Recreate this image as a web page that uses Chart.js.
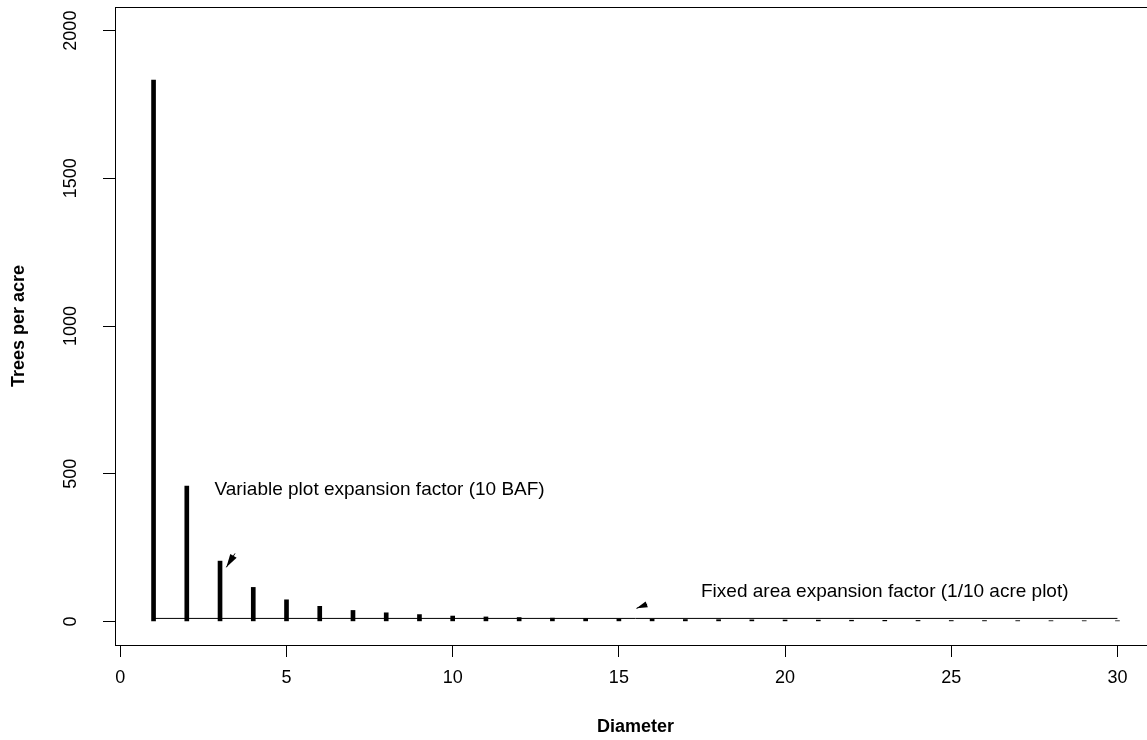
<!DOCTYPE html>
<html>
<head>
<meta charset="utf-8">
<script src="https://cdn.jsdelivr.net/npm/chart.js@4.4.1/dist/chart.umd.min.js"></script>
<style>
html,body{margin:0;padding:0;background:#fff;overflow:hidden;}
canvas{display:block;}
</style>
</head>
<body>
<canvas id="myChart" width="1156" height="740"></canvas>
<script>
// values
var diameter=[1,2,3,4,5,6,7,8,9,10,11,12,13,14,15,16,17,18,19,20,21,22,23,24,25,26,27,28,29,30];
var treesPerAcre=[1833,458,204,115,73,51,37,29,23,18,15,13,11,9.4,8.1,7.2,6.3,5.7,5.1,4.6,4.2,3.8,3.5,3.2,2.9,2.7,2.5,2.3,2.2,2.0];
var fixedX=[1,30];
var fixedY=[10,10];
var xTicks=[0,5,10,15,20,25,30];
var yTicks=[0,500,1000,1500,2000];

// notes on the plot (data coordinates)
var noteText=["Variable plot expansion factor (10 BAF)","Fixed area expansion factor (1/10 acre plot)"];
var noteX=[7.8,23.0];
var noteY=[445,100];
// arrows: tail -> tip
var arrowX0=[3.45,15.85], arrowY0=[230,58];
var arrowX1=[3.19,15.53], arrowY1=[183,44];

var FONT='"Liberation Sans", Arial, Helvetica, sans-serif';

var $each=function(a,f){for(var i=0;i<a.length;i++)f(i,a[i]);};
var bars=[];
$each(diameter,function(i,d){bars.push({x:d,y:treesPerAcre[i]});});
var fixedLine=[];
$each(fixedX,function(i,x){fixedLine.push({x:x,y:fixedY[i]});});

var extras={
  id:"extras",
  afterDraw:function(chart){
    var ctx=chart.ctx, a=chart.chartArea;
    var xs=chart.scales.x, ys=chart.scales.y;
    ctx.save();
    // box
    ctx.strokeStyle="#000";
    ctx.lineWidth=1;
    ctx.strokeRect(a.left+0.5,a.top+0.5,a.right-a.left,a.bottom-a.top);
    // rotated y tick labels
    ctx.fillStyle="#000";
    ctx.font="18px "+FONT;
    ctx.textAlign="center";
    ctx.textBaseline="middle";
    $each(yTicks,function(i,v){
      ctx.save();
      ctx.translate(71,ys.getPixelForValue(v));
      ctx.rotate(-Math.PI/2);
      ctx.fillText(String(v),0,0);
      ctx.restore();
    });
    // notes
    ctx.font="19px "+FONT;
    $each(noteText,function(i,t){
      ctx.fillText(t,xs.getPixelForValue(noteX[i]),ys.getPixelForValue(noteY[i]));
    });
    // arrows
    $each(arrowX0,function(i){
      var x0=xs.getPixelForValue(arrowX0[i]), y0=ys.getPixelForValue(arrowY0[i]);
      var x1=xs.getPixelForValue(arrowX1[i]), y1=ys.getPixelForValue(arrowY1[i]);
      var ang=Math.atan2(y1-y0,x1-x0);
      var len=Math.min(14,Math.hypot(x1-x0,y1-y0));
      ctx.beginPath();
      ctx.moveTo(x0,y0);ctx.lineTo(x1,y1);ctx.stroke();
      ctx.beginPath();
      ctx.moveTo(x1,y1);
      ctx.lineTo(x1-len*Math.cos(ang-0.27),y1-len*Math.sin(ang-0.27));
      ctx.lineTo(x1-len*Math.cos(ang+0.27),y1-len*Math.sin(ang+0.27));
      ctx.closePath();
      ctx.fill();
    });
    ctx.restore();
  }
};

var myChart=document.getElementById("myChart").getContext("2d");
var chart=new Chart(myChart,{
  type:"bar",
  data:{
    datasets:[
      {
        type:"line",
        data:fixedLine,
        borderColor:"#000",
        borderWidth:1,
        pointRadius:0,
        order:0
      },
      {
        data:bars,
        backgroundColor:"#000",
        barThickness:4,
        order:1
      }
    ]
  },
  options:{
    responsive:false,
    animation:false,
    devicePixelRatio:1,
    layout:{padding:{top:7,left:0,right:0,bottom:0}},
    plugins:{legend:{display:false},tooltip:{enabled:false}},
    scales:{
      x:{
        type:"linear",
        min:-0.16,max:31.16,
        offset:false,
        afterBuildTicks:function(s){s.ticks=xTicks.map(function(v){return {value:v};});},
        afterFit:function(s){s.height=95;},
        grid:{display:true,offset:false,drawOnChartArea:false,drawTicks:true,tickLength:12,color:"#000"},
        border:{display:false},
        ticks:{color:"#000",font:{family:FONT,size:18},padding:10,maxRotation:0,autoSkip:false},
        title:{display:true,text:"Diameter",color:"#000",font:{family:FONT,size:18,weight:"bold"},padding:{top:0,bottom:2}}
      },
      y:{
        type:"linear",
        min:-80,max:2080,
        afterBuildTicks:function(s){s.ticks=yTicks.map(function(v){return {value:v};});},
        afterFit:function(s){s.width=115;},
        grid:{display:true,drawOnChartArea:false,drawTicks:true,tickLength:12,color:"#000"},
        border:{display:false},
        ticks:{display:false},
        title:{display:true,text:"Trees per acre",color:"#000",font:{family:FONT,size:18,weight:"bold"},padding:{top:8,bottom:0}}
      }
    }
  },
  plugins:[extras]
});
</script>
</body>
</html>
